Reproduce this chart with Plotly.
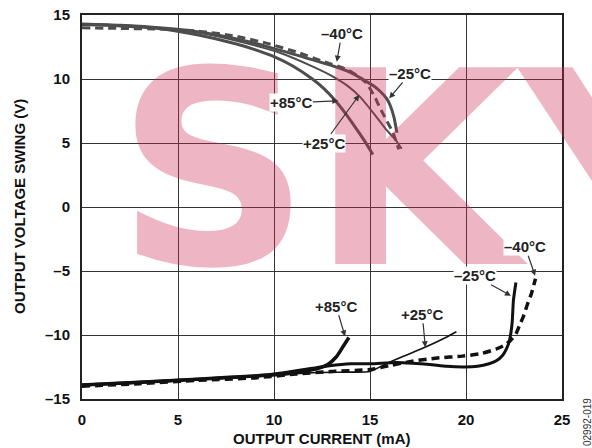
import plotly.graph_objects as go

# ---------------- data ----------------
# Positive swing (upper curves)
top_m40_x = [0, 2, 4, 6, 8, 9.6, 11.2, 12.6, 13.8, 14.3, 14.8, 15.25, 15.5, 15.85, 16.2, 16.5]
top_m40_y = [14.0, 13.95, 13.9, 13.75, 13.35, 12.8, 12.1, 11.35, 10.75, 10.3, 9.7, 8.6, 7.8, 6.8, 5.8, 4.5]

top_m25_x = [0, 2, 4, 6, 8, 9.6, 11, 12.9, 14.0, 14.65, 15.2, 15.55, 15.85, 16.05, 16.25, 16.4]
top_m25_y = [14.3, 14.2, 14.0, 13.7, 13.15, 12.55, 11.95, 11.1, 10.5, 9.95, 9.45, 9.0, 8.5, 7.95, 7.0, 5.8]

top_p25_x = [0, 2, 4, 6, 8, 10.3, 12.05, 13.0, 13.8, 14.48, 15.2, 15.87, 16.3, 16.65]
top_p25_y = [14.3, 14.2, 14.0, 13.65, 13.0, 12.05, 10.95, 10.25, 9.5, 8.6, 7.3, 6.0, 5.3, 4.55]

top_p85_x = [0, 2, 4, 6, 8, 9, 10, 11, 12, 12.6, 13.2, 13.7, 14.2, 14.7, 15.15]
top_p85_y = [14.25, 14.15, 13.95, 13.45, 12.75, 12.3, 11.75, 11.0, 10.0, 9.25, 8.3, 7.35, 6.3, 5.2, 4.1]

# Negative swing (lower curves)
bot_p85_x = [0, 3, 6, 9, 10.5, 11.5, 12.3, 12.8, 13.25, 13.6, 13.9]
bot_p85_y = [-13.9, -13.7, -13.45, -13.2, -13.05, -12.85, -12.6, -12.3, -11.7, -10.9, -10.2]

bot_p25_x = [0, 3, 6, 9, 12, 14, 15.0, 15.9, 17.0, 17.95, 19.0, 19.5]
bot_p25_y = [-13.95, -13.75, -13.5, -13.25, -12.95, -12.9, -12.85, -12.2, -11.5, -10.9, -10.15, -9.75]

bot_m25_x = [0, 3, 6, 9, 10.5, 11.15, 12.0, 12.9, 14.0, 15.0, 16.35, 17.2, 18.1, 19.0, 19.9,
             20.6, 21.2, 21.6, 21.9, 22.1, 22.26, 22.4, 22.47, 22.6]
bot_m25_y = [-13.9, -13.7, -13.45, -13.2, -12.95, -12.8, -12.6, -12.4, -12.25, -12.25, -12.15, -12.2,
             -12.3, -12.45, -12.5, -12.45, -12.25, -12.0, -11.6, -11.1, -10.45, -9.1, -7.3, -5.9]

bot_m40_x = [0, 3, 6, 9, 11.15, 13.0, 15.0, 16.0, 17.2, 18.5, 19.8, 20.8, 21.56, 22.0, 22.3,
             22.6, 22.8, 23.0, 23.2, 23.4, 23.62]
bot_m40_y = [-14.0, -13.8, -13.55, -13.35, -13.05, -12.85, -12.7, -12.4, -12.05, -11.8, -11.65,
             -11.45, -11.1, -10.8, -10.45, -9.9, -9.2, -8.5, -7.6, -6.8, -5.6]

x_ticks = [0, 5, 10, 15, 20, 25]
x_ticktext = ["0", "5", "10", "15", "20", "25"]
y_ticks = [-15, -10, -5, 0, 5, 10, 15]
y_ticktext = ["\u201315", "\u201310", "\u20135", "0", "5", "10", "15"]

# label text, arrow tip (data), offset of label centre from tip (px)
labels = [
    ("\u201340\u00b0C", 13.27, 11.35, 5, -28),
    ("\u201325\u00b0C", 16.0, 8.49, 21, -25),
    ("+85\u00b0C", 13.35, 8.3, -47, 2),
    ("+25\u00b0C", 14.44, 8.75, -35, 48),
    ("+85\u00b0C", 13.7, -10.1, -9, -30),
    ("+25\u00b0C", 17.88, -10.96, -3, -33),
    ("\u201325\u00b0C", 22.34, -6.93, -36, -20),
    ("\u201340\u00b0C", 23.6, -5.37, -10, -29),
]

FONT = "Liberation Sans, Arial, sans-serif"
GRAY = "#4d4d4d"
BLACK = "#111111"

fig = go.Figure()

def add_curve(x, y, color, width, dash="solid"):
    fig.add_trace(go.Scatter(x=x, y=y, mode="lines",
                             line=dict(color=color, width=width, dash=dash,
                                       shape="spline", smoothing=0.6),
                             showlegend=False, hoverinfo="skip"))

add_curve(top_p85_x, top_p85_y, GRAY, 3)
add_curve(top_p25_x, top_p25_y, GRAY, 2)
add_curve(top_m25_x, top_m25_y, GRAY, 3)
add_curve(top_m40_x, top_m40_y, GRAY, 3, "8px,5px")

add_curve(bot_p85_x, bot_p85_y, BLACK, 3.5)
add_curve(bot_p25_x, bot_p25_y, BLACK, 1.6)
add_curve(bot_m25_x, bot_m25_y, BLACK, 3)
add_curve(bot_m40_x, bot_m40_y, BLACK, 3.5, "8px,5px")

annotations = []
# watermark
annotations.append(dict(text="SKY", xref="paper", yref="paper", x=0.698, y=0.594,
                        xanchor="center", yanchor="middle", showarrow=False,
                        font=dict(family="DejaVu Sans, sans-serif", size=270, weight="bold",
                                  color="rgba(205,45,85,0.35)")))
for txt, tx, ty, ax, ay in labels:
    annotations.append(dict(text=txt, x=tx, y=ty, xref="x", yref="y",
                            ax=ax, ay=ay, showarrow=True, arrowhead=2, arrowsize=1,
                            arrowwidth=1.2, arrowcolor="#333",
                            bgcolor="white", borderpad=0,
                            font=dict(family=FONT, size=15, weight="bold", color="#222")))
# axis titles
annotations.append(dict(text="OUTPUT CURRENT (mA)", xref="paper", yref="paper", x=0.5, y=0,
                        yshift=-39, xanchor="center", yanchor="middle", showarrow=False,
                        font=dict(family=FONT, size=15, weight="bold", color="#111")))
annotations.append(dict(text="OUTPUT VOLTAGE SWING (V)", xref="paper", yref="paper", x=0, y=0.5,
                        xshift=-63, xanchor="center", yanchor="middle", showarrow=False,
                        textangle=-90,
                        font=dict(family=FONT, size=15, weight="bold", color="#111")))
annotations.append(dict(text="02992-019", xref="paper", yref="paper", x=1, y=0,
                        xshift=25, yshift=-23, xanchor="center", yanchor="middle",
                        showarrow=False, textangle=-90,
                        font=dict(family=FONT, size=10, color="#333")))

axis_common = dict(showgrid=True, gridcolor="#333", gridwidth=1, zeroline=False,
                   showline=True, linecolor="#222", linewidth=2, mirror=True,
                   automargin=False,
                   ticks="", tickfont=dict(family=FONT, size=15, weight="bold", color="#111"))

fig.update_layout(
    width=592, height=448,
    margin=dict(l=82, r=30, t=15, b=49),
    paper_bgcolor="white", plot_bgcolor="white",
    xaxis=dict(range=[0, 25], tickvals=x_ticks, ticktext=x_ticktext,
               ticklabelstandoff=6, **axis_common),
    yaxis=dict(range=[-15, 15], tickvals=y_ticks, ticktext=y_ticktext,
               ticklabelstandoff=7, **axis_common),
    annotations=annotations,
)

fig.write_html("out.html", config={"displayModeBar": False},
               post_script="document.body.style.margin='0px';document.body.style.overflow='hidden';")
